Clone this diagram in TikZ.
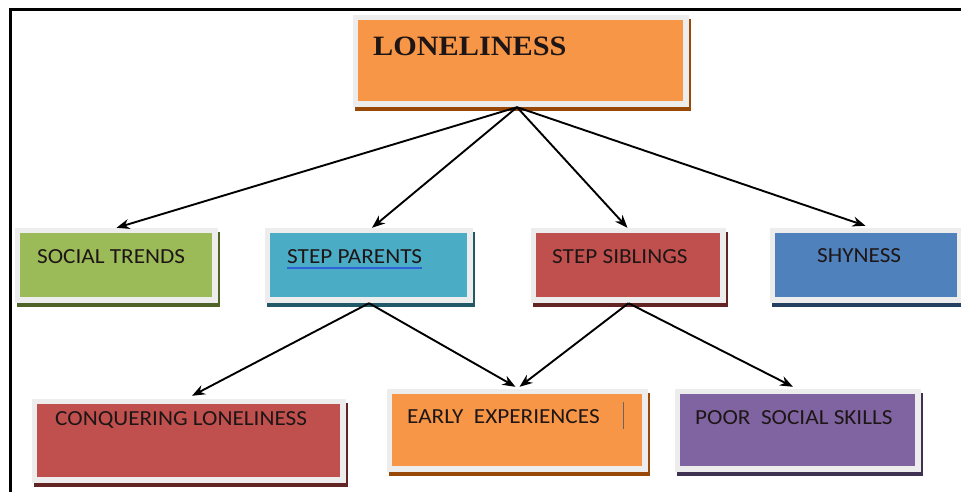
\documentclass[tikz,border=0pt]{standalone}
\usepackage{fontspec}
\setmainfont{Carlito}
\newfontfamily\titlefont{Liberation Serif}
\usetikzlibrary{arrows.meta,shadows}
\definecolor{framecol}{HTML}{EDEDED}
\definecolor{orangef}{HTML}{F79646}
\definecolor{oranges}{HTML}{984807}
\definecolor{greenf}{HTML}{9BBB59}
\definecolor{greens}{HTML}{4F6228}
\definecolor{tealf}{HTML}{4BACC6}
\definecolor{teals}{HTML}{215968}
\definecolor{redf}{HTML}{C0504D}
\definecolor{reds}{HTML}{632523}
\definecolor{bluef}{HTML}{4F81BD}
\definecolor{blues}{HTML}{243F60}
\definecolor{purplef}{HTML}{8064A2}
\definecolor{purples}{HTML}{3F3151}
\definecolor{textcol}{HTML}{1E1616}
\definecolor{ulcol}{HTML}{2F62D8}
\tikzset{
  tile/.style n args={4}{draw=none, fill=framecol, inner sep=0pt,
    minimum width=#3, minimum height=#4,
    drop shadow={shadow xshift=2pt, shadow yshift=-3.5pt, fill=#2, opacity=1},
    path picture={\fill[#1] ([xshift=5pt,yshift=-5pt]path picture bounding box.north west)
      rectangle ([xshift=-6pt,yshift=6pt]path picture bounding box.south east);}},
  lbl/.style={anchor=base west, inner sep=0pt, text=textcol,
    font=\fontsize{21.5}{25}\selectfont},
  arr/.style={draw=black, line width=1.9pt, -{Stealth[length=13pt,width=10pt]}},
}
\begin{document}
\begin{tikzpicture}[x=1pt,y=-1pt]
\useasboundingbox (0,0) rectangle (961,491);
\fill[white] (0,0) rectangle (961,491);
\draw[line width=3pt] (10,493) -- (10,9) -- (963,9);

% boxes
\node[tile={orangef}{oranges}{336pt}{92pt}] (lon) at (521,61) {};
\node[tile={greenf}{greens}{203pt}{75pt}] (soc) at (116.5,265.5) {};
\node[tile={tealf}{teals}{208pt}{75pt}] (par) at (369,265.5) {};
\node[tile={redf}{reds}{195pt}{75pt}] (sib) at (628.5,265.5) {};
\node[tile={bluef}{blues}{193pt}{75pt}] (shy) at (866.5,265.5) {};
\node[tile={redf}{reds}{314pt}{84pt}] (con) at (189,441) {};
\node[tile={orangef}{oranges}{261pt}{83pt}] (ear) at (517.5,430.5) {};
\node[tile={purplef}{purples}{246pt}{83pt}] (poor) at (798,430.5) {};

% texts
\node[anchor=base west, inner sep=0pt, text=textcol,
  font=\titlefont\bfseries\fontsize{28}{32}\selectfont] (tlon) at (373,55) {\scalebox{1.08}[1]{LONELINESS}};
\node[lbl] (tsoc) at (37,263) {\scalebox{1.08}[1]{SOCIAL TRENDS}};
\node[lbl] (tpar) at (287,263) {\scalebox{1.08}[1]{STEP PARENTS}};
\node[lbl] (tsib) at (552,263) {\scalebox{1.08}[1]{STEP SIBLINGS}};
\node[lbl] (tshy) at (817,262) {\scalebox{1.08}[1]{SHYNESS}};
\node[lbl] (tcon) at (55,425) {\scalebox{1.08}[1]{CONQUERING LONELINESS}};
\node[lbl] (tear) at (407,423) {\scalebox{1.08}[1]{EARLY\ \ EXPERIENCES}};
\node[lbl] (tpoor) at (695,424) {\scalebox{1.08}[1]{POOR\ \ SOCIAL SKILLS}};

% underline under STEP PARENTS and text cursor
\draw[ulcol, line width=1.8pt] ([yshift=-5pt]tpar.base west) -- ([yshift=-5pt]tpar.base east);
\coordinate (cur1) at (623,402);
\coordinate (cur2) at (623,429);
\draw[black!60, line width=1pt] (cur1) -- (cur2);

% connectors
\draw[arr] ([xshift=-4pt]lon.south) -- (soc.north);
\draw[arr] ([xshift=-4pt]lon.south) -- ([xshift=3pt]par.north);
\draw[arr] ([xshift=-4pt]lon.south) -- ([xshift=-1pt]sib.north);
\draw[arr] ([xshift=-4pt]lon.south) -- ([xshift=-1pt,yshift=2pt]shy.north);
\draw[arr] (par.south) -- ([xshift=3pt,yshift=3pt]con.north);
\draw[arr] (par.south) -- ([xshift=-2pt,yshift=2pt]ear.north);
\draw[arr] (sib.south) -- ([xshift=2pt,yshift=2pt]ear.north);
\draw[arr] (sib.south) -- ([xshift=-5pt,yshift=2pt]poor.north);
\end{tikzpicture}
\end{document}
